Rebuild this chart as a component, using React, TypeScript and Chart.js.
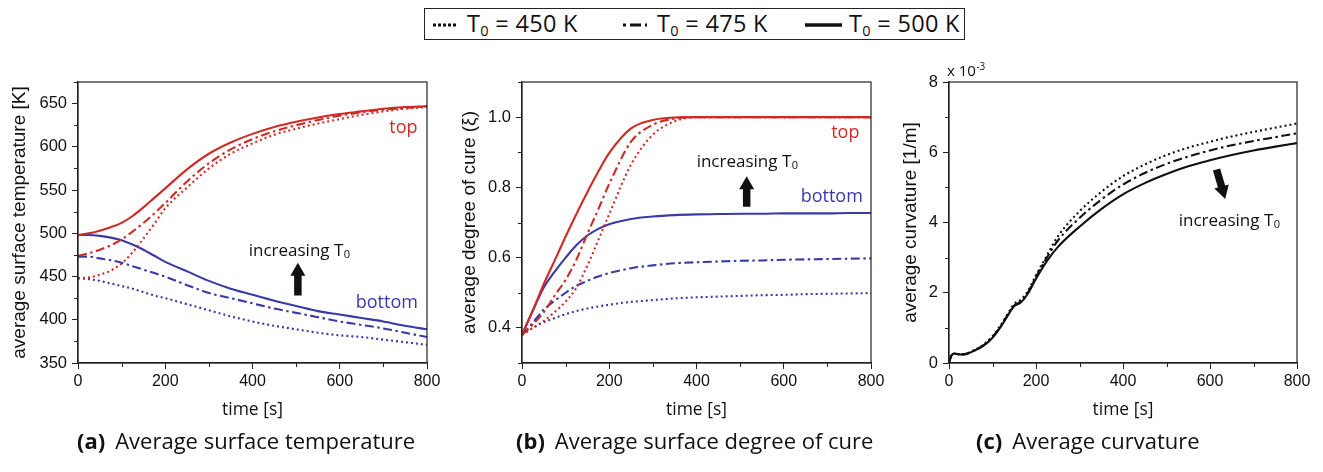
import React, { useEffect, useRef } from "react";
import { Chart, registerables } from "chart.js";
Chart.register(...registerables);

// ---------- data ----------
const timeAB = [0, 25, 50, 75, 100, 125, 150, 175, 200, 250, 300, 350, 400, 450, 500, 550, 600, 650, 700, 750, 800];

const tempTop450 = [448, 449, 452, 457, 465, 478, 494, 511, 529, 553, 575, 592, 604, 614, 621, 627, 632, 637, 641, 644, 646];
const tempTop475 = [474, 477, 481, 486, 493, 502, 512, 523, 535, 560, 581, 597, 609, 618, 625, 631, 636, 640, 643, 645, 647];
const tempTop500 = [498, 500, 503, 507, 512, 520, 530, 541, 552, 574, 592, 605, 615, 623, 629, 634, 638, 641, 644, 646, 647];
const tempBot450 = [448, 447, 445, 442, 439, 436, 432, 428, 425, 418, 411, 404, 398, 393, 389, 385, 382, 380, 377, 374, 371];
const tempBot475 = [473, 473, 471, 469, 466, 462, 458, 454, 450, 440, 431, 425, 419, 413, 408, 403, 398, 394, 390, 385, 380];
const tempBot500 = [498, 498, 497, 495, 492, 487, 481, 474, 467, 456, 445, 436, 429, 422, 416, 410, 406, 402, 398, 393, 389];

const cureTop450 = [0.38, 0.4, 0.42, 0.445, 0.475, 0.515, 0.578, 0.65, 0.724, 0.865, 0.95, 0.988, 1, 1, 1, 1, 1, 1, 1, 1, 1];
const cureTop475 = [0.38, 0.41, 0.445, 0.492, 0.537, 0.595, 0.668, 0.738, 0.81, 0.93, 0.978, 0.996, 1, 1, 1, 1, 1, 1, 1, 1, 1];
const cureTop500 = [0.38, 0.45, 0.525, 0.592, 0.66, 0.725, 0.787, 0.845, 0.898, 0.968, 0.992, 0.999, 1, 1, 1, 1, 1, 1, 1, 1, 1];
const cureBot450 = [0.38, 0.4, 0.416, 0.428, 0.439, 0.448, 0.455, 0.461, 0.466, 0.474, 0.479, 0.484, 0.487, 0.489, 0.491, 0.493, 0.494, 0.496, 0.497, 0.498, 0.499];
const cureBot475 = [0.38, 0.415, 0.452, 0.477, 0.5, 0.52, 0.534, 0.546, 0.556, 0.57, 0.578, 0.584, 0.587, 0.589, 0.591, 0.592, 0.594, 0.595, 0.596, 0.597, 0.598];
const cureBot500 = [0.38, 0.45, 0.515, 0.56, 0.6, 0.636, 0.663, 0.682, 0.695, 0.71, 0.717, 0.721, 0.723, 0.724, 0.725, 0.725, 0.726, 0.726, 0.726, 0.727, 0.727];

const timeC = [0, 5, 12, 25, 40, 60, 80, 100, 120, 140, 150, 165, 180, 200, 225, 250, 300, 350, 400, 450, 500, 550, 600, 650, 700, 750, 800];
const curv450 = [0, 0.2, 0.27, 0.25, 0.27, 0.38, 0.53, 0.76, 1.1, 1.5, 1.68, 1.8, 2.02, 2.5, 3.06, 3.6, 4.32, 4.87, 5.32, 5.65, 5.92, 6.13, 6.3, 6.45, 6.58, 6.7, 6.82];
const curv475 = [0, 0.2, 0.27, 0.24, 0.26, 0.37, 0.51, 0.74, 1.07, 1.47, 1.64, 1.75, 1.98, 2.45, 3.0, 3.48, 4.13, 4.65, 5.08, 5.41, 5.67, 5.88, 6.05, 6.2, 6.32, 6.43, 6.54];
const curv500 = [0, 0.2, 0.27, 0.24, 0.26, 0.36, 0.5, 0.72, 1.05, 1.45, 1.62, 1.72, 1.95, 2.4, 2.9, 3.3, 3.88, 4.38, 4.8, 5.12, 5.38, 5.6, 5.77, 5.92, 6.05, 6.16, 6.26];

const xTicks = [0, 200, 400, 600, 800];
const yTicksA = [350, 400, 450, 500, 550, 600, 650];
const yTicksB = [0.4, 0.6, 0.8, 1.0];
const yTicksC = [0, 2, 4, 6, 8];

const legendLabels = ["450 K", "475 K", "500 K"];
const captions = [
  ["(a)", "Average surface temperature"],
  ["(b)", "Average surface degree of cure"],
  ["(c)", "Average curvature"],
];

// ---------- styles ----------
const RED = "#d02a25";
const BLUE = "#3a3aa6";
const BLACK = "#111111";
const AXIS = "#222222";
const DOT = [2, 3];
const DASHDOT = [9, 3.5, 2.5, 3.5];
const TICK_FONT = "'Liberation Sans', Arial, sans-serif";
const TEXT_FONT = "'Open Sans', 'Noto Sans', sans-serif";

function pts(t: number[], v: number[]) {
  return t.map((x, i) => ({ x, y: v[i] }));
}

function ds(t: number[], v: number[], color: string, dash: number[], w = 2.1) {
  return {
    data: pts(t, v),
    borderColor: color,
    borderWidth: w,
    borderDash: dash,
    pointRadius: 0,
    cubicInterpolationMode: "monotone" as const,
    fill: false,
  };
}

function drawArrow(ctx: CanvasRenderingContext2D, x1: number, y1: number, x2: number, y2: number) {
  const shaftW = 7.5, headW = 15, headL = 13;
  const ang = Math.atan2(y2 - y1, x2 - x1);
  const len = Math.hypot(x2 - x1, y2 - y1);
  ctx.save();
  ctx.translate(x1, y1);
  ctx.rotate(ang);
  ctx.beginPath();
  ctx.moveTo(0, -shaftW / 2);
  ctx.lineTo(len - headL, -shaftW / 2);
  ctx.lineTo(len - headL, -headW / 2);
  ctx.lineTo(len, 0);
  ctx.lineTo(len - headL, headW / 2);
  ctx.lineTo(len - headL, shaftW / 2);
  ctx.lineTo(0, shaftW / 2);
  ctx.closePath();
  ctx.fillStyle = BLACK;
  ctx.fill();
  ctx.restore();
}

function drawIncreasing(ctx: CanvasRenderingContext2D, cx: number, cy: number) {
  ctx.save();
  const main = "increasing T";
  ctx.font = `17px ${TEXT_FONT}`;
  const w1 = ctx.measureText(main).width;
  ctx.font = `11px ${TEXT_FONT}`;
  const w2 = ctx.measureText("0").width;
  const x0 = cx - (w1 + w2) / 2;
  const base = cy + 6;
  ctx.fillStyle = BLACK;
  ctx.textBaseline = "alphabetic";
  ctx.textAlign = "left";
  ctx.font = `17px ${TEXT_FONT}`;
  ctx.fillText(main, x0, base);
  ctx.font = `11px ${TEXT_FONT}`;
  ctx.fillText("0", x0 + w1 + 0.5, base + 2);
  ctx.restore();
}

type Ann =
  | { kind: "text"; x: number; y: number; text: string; color: string }
  | { kind: "inc"; x: number; y: number }
  | { kind: "arrow"; x1: number; y1: number; x2: number; y2: number }
  | { kind: "exp" };

function makeChart(
  canvas: HTMLCanvasElement,
  o: {
    datasets: any[];
    yMin: number; yMax: number; yTicks: number[]; yMinor: number; yDigits: number;
    yTitle: string; yTitlePad: number; yW: number; padRight: number; anns: Ann[];
  }
) {
  const padTop = 26;
  const xH = 67;
  const framePlugin = {
    id: "frameMinor",
    afterDraw(chart: any) {
      const { ctx, chartArea: a, scales } = chart;
      ctx.save();
      ctx.strokeStyle = AXIS;
      ctx.lineWidth = 1;
      const xs = scales.x, ys = scales.y;
      ctx.beginPath();
      for (let v = 100; v < 800; v += 200) {
        const px = Math.round(xs.getPixelForValue(v)) + 0.5;
        ctx.moveTo(px, a.bottom);
        ctx.lineTo(px, a.bottom + 4);
      }
      const start = o.yTicks[0] - o.yMinor;
      for (let v = start; v <= o.yMax + 1e-9; v += o.yMinor * 2) {
        if (v < o.yMin - 1e-9) continue;
        const py = Math.round(ys.getPixelForValue(v)) + 0.5;
        ctx.moveTo(a.left, py);
        ctx.lineTo(a.left - 4, py);
      }
      ctx.stroke();
      ctx.lineWidth = 1.2;
      ctx.strokeRect(a.left, a.top, a.right - a.left, a.bottom - a.top);
      for (const an of o.anns) {
        if (an.kind === "text") {
          ctx.font = `18px ${TEXT_FONT}`;
          ctx.fillStyle = an.color;
          ctx.textAlign = "center";
          ctx.textBaseline = "middle";
          ctx.fillText(an.text, xs.getPixelForValue(an.x), ys.getPixelForValue(an.y));
        } else if (an.kind === "inc") {
          drawIncreasing(ctx, xs.getPixelForValue(an.x), ys.getPixelForValue(an.y));
        } else if (an.kind === "arrow") {
          drawArrow(ctx, xs.getPixelForValue(an.x1), ys.getPixelForValue(an.y1), xs.getPixelForValue(an.x2), ys.getPixelForValue(an.y2));
        } else if (an.kind === "exp") {
          ctx.fillStyle = BLACK;
          ctx.textAlign = "left";
          ctx.textBaseline = "alphabetic";
          ctx.font = `15px ${TEXT_FONT}`;
          const bx = a.left - 2, by = a.top - 6;
          ctx.fillText("x 10", bx, by);
          const w = ctx.measureText("x 10").width;
          ctx.font = `10px ${TEXT_FONT}`;
          ctx.fillText("-3", bx + w + 0.5, by - 6);
        }
      }
      ctx.restore();
    },
  };

  return new Chart(canvas, {
    type: "line",
    data: { datasets: o.datasets },
    plugins: [framePlugin],
    options: {
      responsive: false,
      animation: false,
      devicePixelRatio: 1,
      layout: { padding: { top: padTop, right: o.padRight, left: 0, bottom: 0 } },
      plugins: { legend: { display: false }, tooltip: { enabled: false } },
      events: [],
      scales: {
        x: {
          type: "linear",
          min: 0,
          max: 800,
          afterBuildTicks: (s: any) => { s.ticks = xTicks.map((v) => ({ value: v })); },
          afterFit: (s: any) => { s.height = xH; s.paddingLeft = 0; s.paddingRight = 0; },
          ticks: { font: { family: TICK_FONT, size: 16 }, color: BLACK, padding: 3, maxRotation: 0, autoSkip: false },
          grid: { drawOnChartArea: false, drawTicks: true, tickLength: 6, tickColor: AXIS, tickWidth: 1 },
          border: { color: AXIS, width: 1.2 },
          title: {
            display: true,
            text: "time [s]",
            font: { family: TEXT_FONT, size: 17.5 },
            color: BLACK,
            padding: { top: 0, bottom: 9 },
          },
        },
        y: {
          type: "linear",
          min: o.yMin,
          max: o.yMax,
          afterBuildTicks: (s: any) => { s.ticks = o.yTicks.map((v) => ({ value: v })); },
          afterFit: (s: any) => { s.width = o.yW; s.paddingTop = 0; s.paddingBottom = 0; },
          ticks: {
            font: { family: TICK_FONT, size: 16.5 },
            color: BLACK,
            padding: 5,
            autoSkip: false,
            callback: (v: any) => Number(v).toFixed(o.yDigits),
          },
          grid: { drawOnChartArea: false, drawTicks: true, tickLength: 6, tickColor: AXIS, tickWidth: 1 },
          border: { color: AXIS, width: 1.2 },
          title: {
            display: true,
            text: o.yTitle,
            font: { family: TICK_FONT, size: 19 },
            color: BLACK,
            padding: { top: o.yTitlePad, bottom: 0 },
          },
        },
      },
    } as any,
  });
}

function ChartBox(props: { left: number; width: number; build: (c: HTMLCanvasElement) => Chart }) {
  const ref = useRef<HTMLCanvasElement | null>(null);
  useEffect(() => {
    if (!ref.current) return;
    const ch = props.build(ref.current);
    return () => ch.destroy();
  }, []);
  return (
    <canvas
      ref={ref}
      width={props.width}
      height={374}
      style={{ position: "absolute", left: props.left, top: 56, width: props.width, height: 374 }}
    />
  );
}

function Sub(props: { children: any }) {
  return <span style={{ fontSize: "0.62em", position: "relative", top: "0.3em" }}>{props.children}</span>;
}

export default function App() {
  const buildA = (c: HTMLCanvasElement) =>
    makeChart(c, {
      datasets: [
        ds(timeAB, tempTop450, RED, DOT),
        ds(timeAB, tempTop475, RED, DASHDOT),
        ds(timeAB, tempTop500, RED, []),
        ds(timeAB, tempBot450, BLUE, DOT),
        ds(timeAB, tempBot475, BLUE, DASHDOT),
        ds(timeAB, tempBot500, BLUE, []),
      ],
      yMin: 350, yMax: 675, yTicks: yTicksA, yMinor: 25, yDigits: 0,
      yTitle: "average surface temperature [K]", yTitlePad: 8, yW: 78, padRight: 21,
      anns: [
        { kind: "text", x: 746, y: 621.5, text: "top", color: RED },
        { kind: "text", x: 708, y: 419.5, text: "bottom", color: BLUE },
        { kind: "inc", x: 507, y: 480.5 },
        { kind: "arrow", x1: 504, y1: 428, x2: 504, y2: 466 },
      ],
    });
  const buildB = (c: HTMLCanvasElement) =>
    makeChart(c, {
      datasets: [
        ds(timeAB, cureTop450, RED, DOT),
        ds(timeAB, cureTop475, RED, DASHDOT),
        ds(timeAB, cureTop500, RED, []),
        ds(timeAB, cureBot450, BLUE, DOT),
        ds(timeAB, cureBot475, BLUE, DASHDOT),
        ds(timeAB, cureBot500, BLUE, []),
      ],
      yMin: 0.3, yMax: 1.1, yTicks: yTicksB, yMinor: 0.1, yDigits: 1,
      yTitle: "average degree of cure (ξ)", yTitlePad: 14, yW: 78, padRight: 21,
      anns: [
        { kind: "text", x: 741, y: 0.955, text: "top", color: RED },
        { kind: "text", x: 710, y: 0.773, text: "bottom", color: BLUE },
        { kind: "inc", x: 516, y: 0.875 },
        { kind: "arrow", x1: 515, y1: 0.745, x2: 515, y2: 0.832 },
      ],
    });
  const buildC = (c: HTMLCanvasElement) =>
    makeChart(c, {
      datasets: [
        ds(timeC, curv450, BLACK, DOT),
        ds(timeC, curv475, BLACK, DASHDOT),
        ds(timeC, curv500, BLACK, []),
      ],
      yMin: 0, yMax: 8, yTicks: yTicksC, yMinor: 1, yDigits: 0,
      yTitle: "average curvature [1/m]", yTitlePad: 19, yW: 69, padRight: 26,
      anns: [
        { kind: "inc", x: 644, y: 4.08 },
        { kind: "arrow", x1: 615, y1: 5.51, x2: 635, y2: 4.67 },
        { kind: "exp" },
      ],
    });

  const dashSvg = (x: number, w: number, dash: string, sw: number) => (
    <svg style={{ position: "absolute", left: x, top: 9, overflow: "visible" }} width={w} height={14}>
      <line x1={0} y1={7} x2={w} y2={7} stroke={BLACK} strokeWidth={sw} strokeDasharray={dash} />
    </svg>
  );

  const legendText = (x: number, label: string) => (
    <div
      style={{
        position: "absolute",
        left: x,
        top: -2,
        fontFamily: TEXT_FONT,
        fontSize: 23.5,
        letterSpacing: "0.3px",
        lineHeight: "32px",
        color: BLACK,
        whiteSpace: "nowrap",
      }}
    >
      T<Sub>0</Sub> = {label}
    </div>
  );

  const capLefts = [77, 516, 976];

  return (
    <div style={{ position: "fixed", left: 0, top: 0, width: 1323, height: 472, background: "#fff", overflow: "hidden" }}>
      <div
        style={{
          position: "absolute",
          left: 424,
          top: 8,
          width: 541,
          height: 32,
          border: "1px solid #222",
          boxSizing: "border-box",
        }}
      >
        {dashSvg(8, 24, "3 2", 3)}
        {legendText(42, legendLabels[0])}
        {dashSvg(198, 24, "3 4 11 4 3 100", 3)}
        {legendText(232, legendLabels[1])}
        {dashSvg(380, 37, "", 3.5)}
        {legendText(424, legendLabels[2])}
      </div>
      <ChartBox left={0} width={448} build={buildA} />
      <ChartBox left={444} width={448} build={buildB} />
      <ChartBox left={880} width={443} build={buildC} />
      {captions.map((c, i) => (
        <div
          key={i}
          style={{
            position: "absolute",
            left: capLefts[i],
            top: 428,
            fontFamily: TEXT_FONT,
            fontSize: 22,
            lineHeight: "24px",
            color: BLACK,
            whiteSpace: "nowrap",
          }}
        >
          <span style={{ fontWeight: 700 }}>{c[0]}</span>
          <span style={{ marginLeft: 10 }}>{c[1]}</span>
        </div>
      ))}
    </div>
  );
}
